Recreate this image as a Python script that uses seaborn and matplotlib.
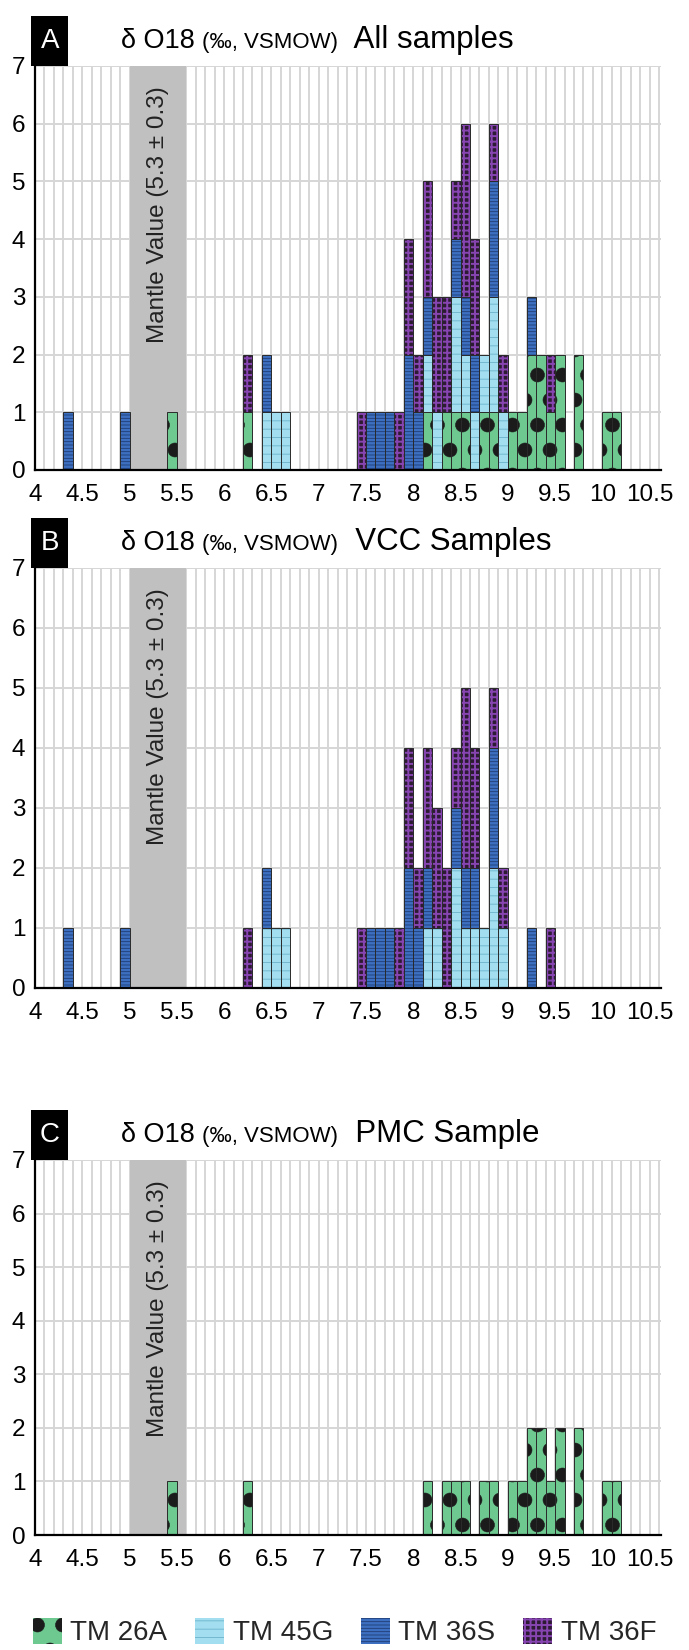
import numpy as np
import pandas as pd
import matplotlib
matplotlib.use("Agg")
import matplotlib.pyplot as plt
import matplotlib.hatch as mhatch
import matplotlib.colors as mcolors
from matplotlib.patches import Patch, Rectangle
from matplotlib.ticker import MultipleLocator
from matplotlib.offsetbox import TextArea, HPacker, AnchoredOffsetbox
import seaborn as sns

# ---------------- data (d18O values, 0.1 permil bins, values at bin centres) ----------------
tm26a = [5.45, 6.25, 8.15, 8.35, 8.45, 8.55, 8.75, 8.85, 9.05, 9.15,
         9.25, 9.25, 9.35, 9.35, 9.45, 9.55, 9.55, 9.75, 9.75, 10.05, 10.15]
tm45g = [6.45, 6.55, 6.65, 8.15, 8.25, 8.45, 8.45, 8.55, 8.65, 8.75,
         8.85, 8.85, 8.95]
tm36s = [4.35, 4.95, 6.45, 7.55, 7.65, 7.75, 7.95, 7.95, 8.05, 8.15,
         8.45, 8.55, 8.65, 8.85, 8.85, 9.25]
tm36f = [6.25, 7.45, 7.85, 7.95, 7.95, 8.05, 8.15, 8.15, 8.25, 8.25,
         8.35, 8.35, 8.45, 8.55, 8.55, 8.55, 8.65, 8.65, 8.85, 8.95, 9.45]

sample_names = ["TM 26A", "TM 45G", "TM 36S", "TM 36F"]
sample_values = [tm26a, tm45g, tm36s, tm36f]
panel_letters = ["A", "B", "C"]
panel_titles = ["All samples", "VCC Samples", "PMC Sample"]
panel_samples = [["TM 26A", "TM 45G", "TM 36S", "TM 36F"],
                 ["TM 45G", "TM 36S", "TM 36F"],
                 ["TM 26A"]]
bin_edges = np.round(np.arange(4.0, 10.65, 0.1), 2)
xtick_values = [4, 4.5, 5, 5.5, 6, 6.5, 7, 7.5, 8, 8.5, 9, 9.5, 10, 10.5]
xtick_labels = ["4", "4.5", "5", "5.5", "6", "6.5", "7", "7.5", "8", "8.5",
                "9", "9.5", "10", "10.5"]
ytick_values = [0, 1, 2, 3, 4, 5, 6, 7]
mantle_value, mantle_sd = 5.3, 0.3
mantle_label = "Mantle Value (5.3 ± 0.3)"
title_main = "δ O18 "
title_unit = "(‰, VSMOW)"

df = pd.concat([pd.DataFrame({"value": v, "sample": n})
                for n, v in zip(sample_names, sample_values)], ignore_index=True)

# ---------------- big filled dots hatch for TM 26A ----------------
class _BigDots(mhatch.Circles):
    size = 0.28
    filled = True

    def __init__(self, hatch, density):
        self.num_rows = hatch.count(".") * 4
        super().__init__(hatch, density)

for _i, _t in enumerate(mhatch._hatch_types):
    if _t is mhatch.SmallFilledCircles:
        mhatch._hatch_types[_i] = _BigDots

STYLES = {
    "TM 26A": dict(face="#6ec990", hatch=".", hcolor="#1b1b1b", hlw=0.4),
    "TM 45G": dict(face="#a2def0", hatch="--", hcolor="#6cb2c9", hlw=0.6),
    "TM 36S": dict(face="#3d6fc0", hatch="-----", hcolor="#1f3d73", hlw=0.6),
    "TM 36F": dict(face="#2d1a33", hatch="+++", hcolor="#8645b0", hlw=1.4),
}
EDGE = "#2a2a2a"


def apply_style(p, name):
    st = STYLES[name]
    p.set_alpha(1)
    p.set_facecolor(st["face"])
    p.set_edgecolor(EDGE)
    p.set_hatch(st["hatch"])
    if hasattr(p, "set_hatchcolor"):
        p.set_hatchcolor(st["hcolor"])
    else:
        p._hatch_color = mcolors.to_rgba(st["hcolor"])
    if hasattr(p, "set_hatch_linewidth"):
        p.set_hatch_linewidth(st["hlw"])


sns.set_style("white")
plt.rcParams["font.family"] = ["Liberation Sans", "DejaVu Sans"]
plt.rcParams["hatch.linewidth"] = 0.8

W, H = 689, 1650
fig = plt.figure(figsize=(W / 100, H / 100), dpi=100)

# axes boxes in pixels: (left, top, right, bottom)
boxes = [(35, 66, 661, 470), (35, 568, 661, 988), (35, 1160, 661, 1535)]

palette = {n: STYLES[n]["face"] for n in sample_names}

for k, (l, t, r, b) in enumerate(boxes):
    ax = fig.add_axes([l / W, 1 - b / H, (r - l) / W, (b - t) / H])
    names = panel_samples[k]
    sub = df[df["sample"].isin(names)]
    # stacking: last hue level at the bottom
    order = [n for n in sample_names[::-1] if n in names]
    sns.histplot(data=sub, x="value", hue="sample", hue_order=order,
                 multiple="stack", bins=bin_edges, palette=palette,
                 alpha=1, linewidth=0.7, edgecolor=EDGE, legend=False, ax=ax)
    face_map = {mcolors.to_hex(palette[n]): n for n in names}
    for p in ax.patches:
        if not isinstance(p, Rectangle):
            continue
        key = mcolors.to_hex(p.get_facecolor())
        if key not in face_map:
            continue
        if p.get_height() <= 0:
            p.set_visible(False)
            continue
        apply_style(p, face_map[key])
        p.set_zorder(2)

    ax.set_xlim(4, 10.62)
    ax.set_ylim(0, 7)
    ax.set_xlabel("")
    ax.set_ylabel("")
    ax.set_xticks(xtick_values)
    ax.set_xticklabels(xtick_labels)
    ax.xaxis.set_minor_locator(MultipleLocator(0.1))
    ax.set_yticks(ytick_values)
    ax.set_axisbelow(True)
    ax.grid(True, which="both", axis="x", color="#d6d6d6", lw=1.4)
    ax.grid(True, which="major", axis="y", color="#d6d6d6", lw=1.4)
    for s in ["top", "right"]:
        ax.spines[s].set_visible(False)
    for s in ["left", "bottom"]:
        ax.spines[s].set_color("black")
        ax.spines[s].set_linewidth(1.6)
    ax.tick_params(axis="x", which="major", length=7, width=1.5, direction="out",
                   labelsize=17.5, pad=3, colors="black")
    ax.tick_params(axis="x", which="minor", length=4, width=1.2, direction="out",
                   colors="black")
    ax.tick_params(axis="y", which="major", length=4, width=1.5, direction="out",
                   labelsize=17.5, pad=3, colors="black")

    # mantle band
    ax.axvspan(mantle_value - mantle_sd, mantle_value + mantle_sd,
               color="#c0c0c0", lw=0, zorder=1)
    ax.text(mantle_value, 1 - 20 / (b - t), mantle_label, rotation=90,
            ha="center", va="top", fontsize=17.5, color="#222222", zorder=3,
            transform=ax.get_xaxis_transform())

    # panel letter box
    bw, bh = 37 / (r - l), 50 / (b - t)
    ax.add_patch(Rectangle((-0.006, 1.0), bw, bh, transform=ax.transAxes,
                           facecolor="black", edgecolor="none", clip_on=False))
    ax.text(-0.006 + bw / 2, 1.0 + bh / 2, panel_letters[k], transform=ax.transAxes,
            ha="center", va="center", color="white", fontsize=20)

    # title
    t1 = TextArea(title_main, textprops=dict(size=19.5, color="black"))
    t2 = TextArea(title_unit, textprops=dict(size=16, color="black"))
    t3 = TextArea("  " + panel_titles[k], textprops=dict(size=22.5, color="black"))
    box = HPacker(children=[t1, t2, t3], align="baseline", pad=0, sep=0)
    ab = AnchoredOffsetbox(loc="lower left", child=box, pad=0, borderpad=0,
                           frameon=False,
                           bbox_to_anchor=((121 - l) / (r - l), 1 + 11 / (b - t)),
                           bbox_transform=ax.transAxes)
    ax.add_artist(ab)

# legend
handles = [Patch(facecolor=STYLES[n]["face"], edgecolor=EDGE, label=n) for n in sample_names]
leg = fig.legend(handles=handles, loc="center", bbox_to_anchor=(0.5, 1 - 1632 / H),
                 ncol=4, frameon=False, fontsize=20, handlelength=1.05, handleheight=1.05,
                 handletextpad=0.3, columnspacing=1.0)
for p, n in zip(leg.get_patches(), sample_names):
    apply_style(p, n)
    p.set_linewidth(0)

fig.savefig("out.png", dpi=100, facecolor="white")
